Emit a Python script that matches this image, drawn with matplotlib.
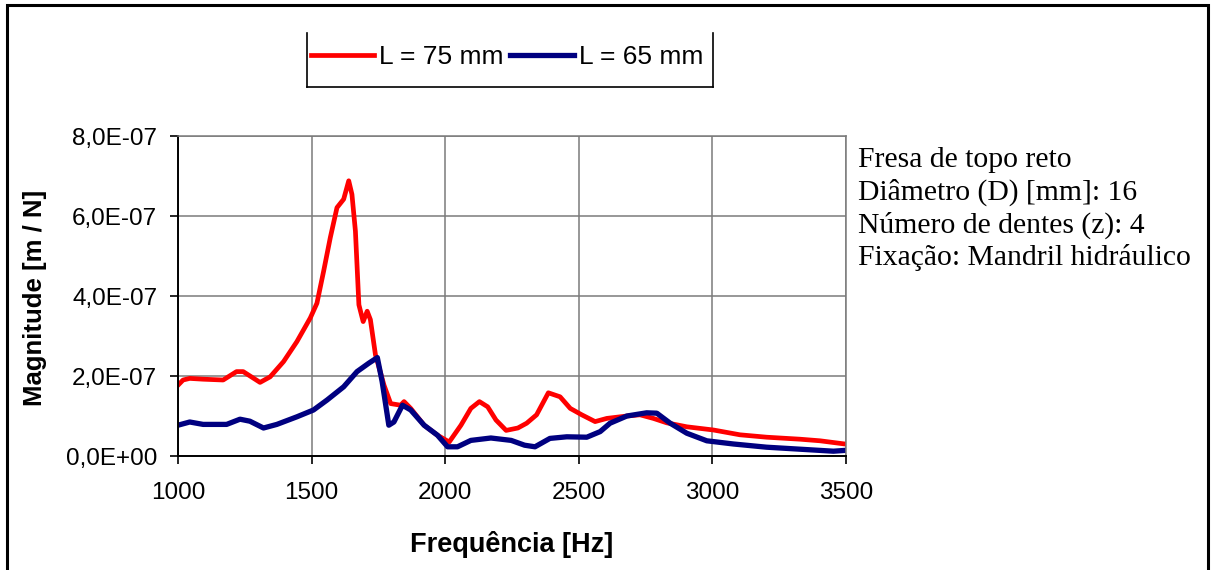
import matplotlib.pyplot as plt
from matplotlib.lines import Line2D
from matplotlib.patches import Rectangle
from matplotlib.ticker import FuncFormatter, MultipleLocator

plt.rcParams['font.family'] = ['Liberation Sans', 'DejaVu Sans']

SCALE = 1e-7  # magnitudes below are in units of 1E-07 m/N

freq_75 = [1000, 1019, 1044, 1094, 1169, 1219, 1244, 1307, 1345, 1395,
           1445, 1495, 1520, 1545, 1570, 1595, 1620, 1639, 1651, 1664,
           1677, 1693, 1708, 1720, 1739, 1771, 1796, 1833, 1846, 1871,
           1921, 1971, 2015, 2059, 2096, 2128, 2159, 2190, 2228, 2272,
           2305, 2342, 2386, 2430, 2468, 2511, 2561, 2605, 2680, 2729,
           2779, 2829, 2904, 3004, 3103, 3203, 3328, 3403, 3496]
mag_75 = [1.77, 1.90, 1.94, 1.92, 1.90, 2.11, 2.11, 1.84, 1.98, 2.36,
          2.86, 3.45, 3.82, 4.62, 5.46, 6.21, 6.42, 6.88, 6.54, 5.62,
          3.78, 3.36, 3.62, 3.41, 2.53, 1.77, 1.31, 1.27, 1.36, 1.19,
          0.77, 0.52, 0.35, 0.77, 1.19, 1.36, 1.23, 0.90, 0.64, 0.70,
          0.82, 1.03, 1.58, 1.48, 1.19, 1.03, 0.86, 0.94, 1.00, 1.03,
          0.94, 0.83, 0.73, 0.65, 0.53, 0.47, 0.42, 0.38, 0.30]

freq_65 = [1000, 1044, 1094, 1182, 1232, 1269, 1320, 1370, 1445, 1507,
           1558, 1620, 1670, 1714, 1746, 1764, 1789, 1808, 1840, 1871,
           1921, 1971, 2009, 2046, 2096, 2171, 2247, 2297, 2336, 2392,
           2455, 2530, 2580, 2617, 2680, 2754, 2792, 2842, 2904, 2979,
           3079, 3203, 3328, 3453, 3496]
mag_65 = [0.77, 0.85, 0.79, 0.79, 0.92, 0.87, 0.70, 0.79, 0.98, 1.15,
          1.40, 1.73, 2.11, 2.32, 2.46, 1.86, 0.77, 0.85, 1.27, 1.15,
          0.77, 0.52, 0.23, 0.23, 0.39, 0.45, 0.39, 0.27, 0.23, 0.44,
          0.48, 0.47, 0.61, 0.82, 1.00, 1.08, 1.07, 0.82, 0.57, 0.38,
          0.30, 0.22, 0.17, 0.12, 0.14]

series_labels = ['L = 75 mm', 'L = 65 mm']
series_colors = ['#ff0000', '#000080']

info_lines = ['Fresa de topo reto',
              'Diâmetro (D) [mm]: 16',
              'Número de dentes (z): 4',
              'Fixação: Mandril hidráulico']

W, H = 1211, 570
fig = plt.figure(figsize=(W / 100, H / 100), dpi=100)
ax = fig.add_axes([178 / W, 1 - 456 / H, (846 - 178) / W, (456 - 136) / H])

ax.plot(freq_75, [m * SCALE for m in mag_75], color=series_colors[0],
        lw=3.4, label=series_labels[0], solid_joinstyle='round')
ax.plot(freq_65, [m * SCALE for m in mag_65], color=series_colors[1],
        lw=3.8, label=series_labels[1], solid_joinstyle='round')

ax.set_xlim(1000, 3500)
ax.set_ylim(0, 8e-7)
ax.xaxis.set_major_locator(MultipleLocator(500))
ax.yaxis.set_major_locator(MultipleLocator(2e-7))
ax.yaxis.set_major_formatter(
    FuncFormatter(lambda v, _: f'{v:.1E}'.replace('.', ',')))
ax.grid(True, color='#7a7a7a', lw=1.1)
ax.set_axisbelow(True)
for side in ('top', 'right'):
    ax.spines[side].set_color('#7a7a7a')
    ax.spines[side].set_linewidth(1.1)
for side in ('left', 'bottom'):
    ax.spines[side].set_color('black')
    ax.spines[side].set_linewidth(1.4)
ax.tick_params(direction='out', length=6, width=1.2, labelsize=17.5,
               colors='black')
ax.tick_params(axis='y', pad=9)
ax.tick_params(axis='x', pad=13)

fig.text(35 / W, 1 - 298 / H, 'Magnitude [m / N]', rotation=90,
         fontsize=18.5, fontweight='bold', ha='center', va='center')
fig.text(512 / W, 1 - 545 / H, 'Frequência [Hz]',
         fontsize=19.5, fontweight='bold', ha='center', va='center')

leg = ax.legend(loc='center', bbox_to_anchor=(507 / W, 1 - 57 / H),
                bbox_transform=fig.transFigure, ncol=2, frameon=False,
                fontsize=19, handlelength=2.4, handletextpad=0.2,
                columnspacing=0.25, borderpad=0)

# open-top box around the legend
for xs, ys in (([307, 307], [33, 87]), ([713, 713], [33, 87]),
               ([307, 713], [87, 87])):
    fig.add_artist(Line2D([x / W for x in xs], [1 - y / H for y in ys],
                          transform=fig.transFigure, color='black', lw=1.2))

for i, line in enumerate(info_lines):
    fig.text(858 / W, 1 - (160 + 32.5 * i) / H, line, fontsize=21.3,
             family=['Liberation Serif', 'DejaVu Serif'], va='center',
             ha='left')

fig.add_artist(Rectangle((7 / W, -0.1), (1208 - 7) / W, 1.1 - 5 / H,
                         transform=fig.transFigure, fill=False,
                         edgecolor='black', lw=2.2))

fig.savefig('out.png', dpi=100)
